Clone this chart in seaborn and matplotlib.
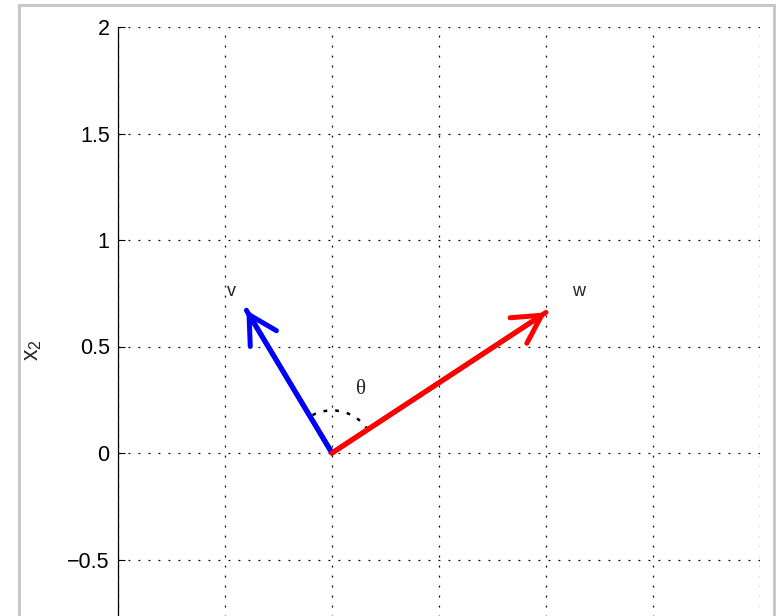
import numpy as np
import pandas as pd
import matplotlib
matplotlib.use("Agg")
import matplotlib.pyplot as plt
from matplotlib.patches import Arc, Rectangle
import seaborn as sns

# vectors (x1, x2)
names = ['v', 'w']
x1_vals = [-0.40, 1.00]
x2_vals = [0.67, 0.66]
colors = ['#0000ff', '#ff0000']

tick_vals = [-1, -0.5, 0, 0.5, 1, 1.5, 2]
tick_labels = ['\u22121', '\u22120.5', '0', '0.5', '1', '1.5', '2']

sns.set_theme(style='white')
plt.rcParams['font.family'] = ['Liberation Sans', 'DejaVu Sans']
plt.rcParams['mathtext.default'] = 'regular'

fig = plt.figure(figsize=(7.77, 6.16), dpi=100)
fig.patch.set_facecolor('white')
ax = fig.add_axes([118 / 777, 1 - 666 / 616, 642 / 777, 639 / 616])

# shafts drawn from a small table
shafts = pd.DataFrame({
    'vec': [n for n in names for _ in range(2)],
    'x1': [c for x in x1_vals for c in (0, x)],
    'x2': [c for y in x2_vals for c in (0, y)],
})
sns.lineplot(data=shafts, x='x1', y='x2', hue='vec', units='vec', estimator=None,
             sort=False, palette=colors, lw=3.6, legend=False, ax=ax)

# open arrow heads
for x, y, c in zip(x1_vals, x2_vals, colors):
    ax.annotate('', xy=(x, y), xytext=(0, 0),
                arrowprops=dict(arrowstyle='->,head_length=1.0,head_width=0.55',
                                mutation_scale=20, lw=3.6, color=c,
                                shrinkA=0, shrinkB=0))

# labels
ax.text(-0.47, 0.76, 'v', fontsize=13, ha='center', va='center', color='#222222')
ax.text(1.15, 0.76, 'w', fontsize=13, ha='center', va='center', color='#222222')

# angle arc between the vectors
a_w = np.degrees(np.arctan2(x2_vals[1], x1_vals[1]))
a_v = np.degrees(np.arctan2(x2_vals[0], x1_vals[0]))
ax.add_patch(Arc((0, 0), 0.40, 0.40, theta1=a_w, theta2=a_v, color='black',
                 lw=1.8, linestyle=(0, (1.5, 3.2))))
ax.text(0.135, 0.30, '\u03b8', fontsize=15, ha='center', va='center',
        family=['Liberation Serif', 'DejaVu Serif'], color='#222222')

ax.set_xlim(-1, 2)
ax.set_ylim(-1, 2)
ax.set_xticks(tick_vals)
ax.set_yticks(tick_vals)
ax.set_xticklabels(tick_labels)
ax.set_yticklabels(tick_labels)
ax.tick_params(direction='in', length=5, width=0.8, labelsize=15.5, pad=6,
               colors='black', left=True, bottom=True)
ax.grid(True, color='black', lw=0.9, linestyle=(0, (1.5, 6.5)))
for s in ['top', 'right']:
    ax.spines[s].set_visible(False)
for s in ['left', 'bottom']:
    ax.spines[s].set_color('black')
    ax.spines[s].set_linewidth(0.9)
ax.set_xlabel('')
ax.set_ylabel('x$_2$', fontsize=16.5)
ax.yaxis.set_label_coords(-0.115, 0.495)

# light grey frame around the figure
fig.add_artist(Rectangle((18.5 / 777, -0.2), (774 - 18.5) / 777, 1.2 - 5 / 616,
                         transform=fig.transFigure, fill=False,
                         edgecolor='#c8c8c8', lw=2.2))

fig.savefig('out.png', dpi=100, facecolor='white')
